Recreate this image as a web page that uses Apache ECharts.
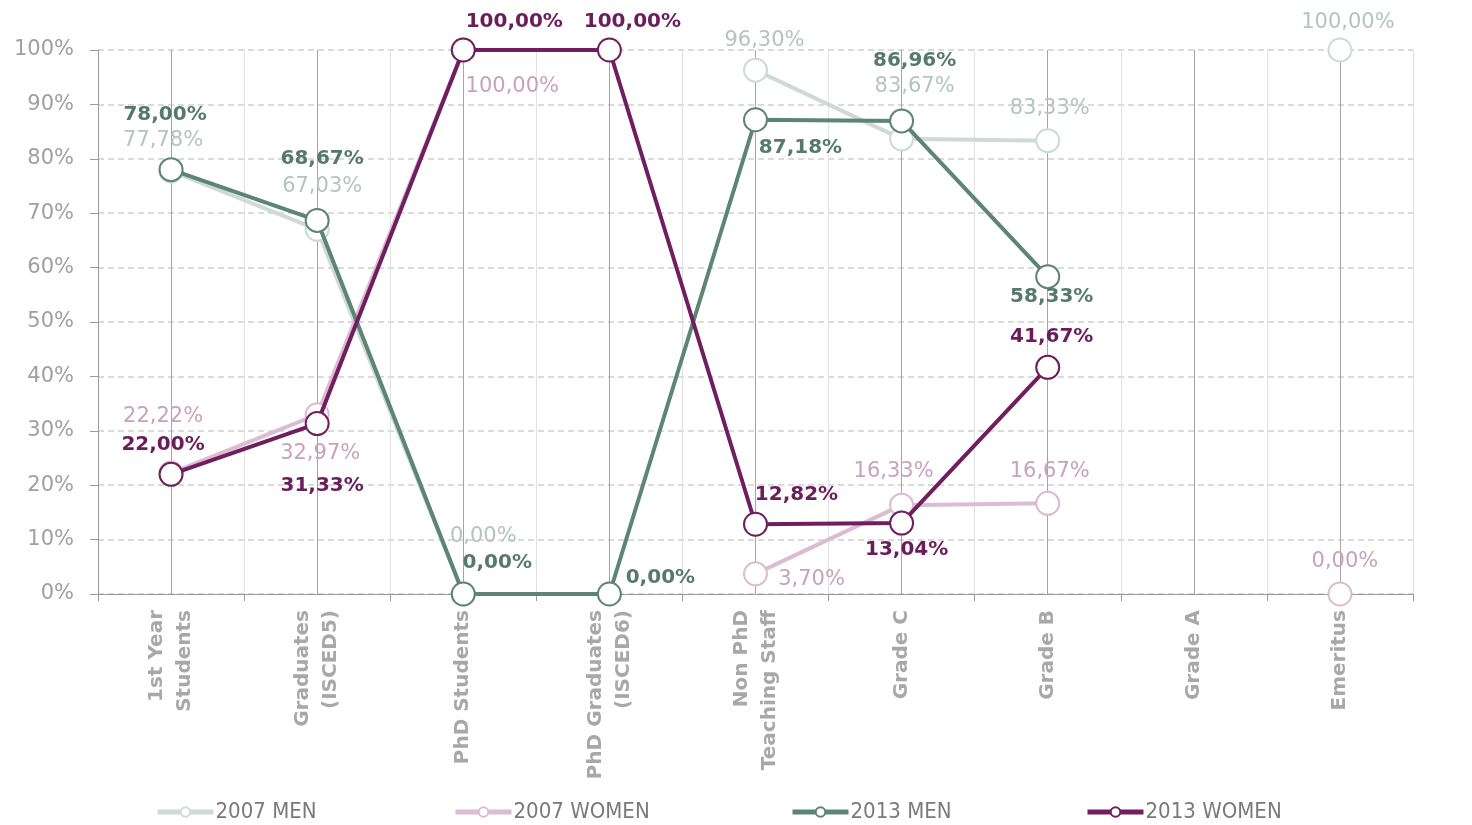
<!DOCTYPE html>
<html><head><meta charset="utf-8">
<script src="https://cdn.jsdelivr.net/npm/echarts@6/dist/echarts.min.js"></script>
<style>html,body{margin:0;padding:0;background:#fff}#c{width:1472px;height:825px}</style>
</head><body><div id="c"></div>
<script>
const categories = ['1st Year\nStudents','Graduates\n(ISCED5)','PhD Students','PhD Graduates\n(ISCED6)','Non PhD\nTeaching Staff','Grade C','Grade B','Grade A','Emeritus'];
const seriesNames = ['2007 MEN','2007 WOMEN','2013 MEN','2013 WOMEN'];
const men2007   = [77.78, 67.03, 0, null, 96.30, 83.67, 83.33, null, 100];
const women2007 = [22.22, 32.97, 100, null, 3.70, 16.33, 16.67, null, 0];
const men2013   = [78.00, 68.67, 0, 0, 87.18, 86.96, 58.33, null, null];
const women2013 = [22.00, 31.33, 100, 100, 12.82, 13.04, 41.67, null, null];
const yTicks = [0,10,20,30,40,50,60,70,80,90,100];

// label offsets (style only)
const offs = {
  '2007 MEN':   [[-8,-30],[5,-43],[20,-57],null,[9,-30],[13,-52],[2,-32],null,[8,-27]],
  '2007 WOMEN': [[-8,-57],[3,39],[49,37],null,[56,6],[-8,-34],[2,-32],null,[5,-32]],
  '2013 MEN':   [[-6,-55],[5,-62],[34,-31],[51,-16],[45,28],[13,-60],[4,20],null,null],
  '2013 WOMEN': [[-8,-30],[5,62],[51,-28],[23,-28],[41,-29],[5,27],[4,-31],null,null]
};
const styles = {
  '2007 MEN':   {line:'#cfdad6', label:'#b5c4bf', weight:'normal', size:21, z:2},
  '2007 WOMEN': {line:'#dcbcd2', label:'#c8a2bb', weight:'normal', size:21, z:2},
  '2013 MEN':   {line:'#5c8576', label:'#557a6c', weight:'bold', size:20, z:4},
  '2013 WOMEN': {line:'#6f1f5f', label:'#6a1d5a', weight:'bold', size:20, z:5}
};
const values = {'2007 MEN':men2007,'2007 WOMEN':women2007,'2013 MEN':men2013,'2013 WOMEN':women2013};
const fmt = v => v.toFixed(2).replace('.', ',') + '%';

const series = seriesNames.map(name => {
  const st = styles[name];
  return {
    name, type:'line', z: st.z, xAxisIndex:0,
    symbol:'emptyCircle', symbolSize:23, connectNulls:false,
    lineStyle:{color:st.line, width:4},
    itemStyle:{color:st.line, borderColor:st.line, borderWidth:3.5},
    emphasis:{disabled:true},
    data: values[name].map((v,i) => v === null ? null : {
      value: v,
      label:{show:true, position:'inside', offset: offs[name][i],
        formatter: p => fmt(p.value), color: st.label, fontSize: st.size,
        fontWeight: st.weight, fontFamily:"'DejaVu Sans', sans-serif"}
    })
  };
});

const legendLefts = [155, 453, 790, 1085];
const legends = seriesNames.map((n,i) => ({
  data:[n], left: legendLefts[i], top: 801, padding:0, itemWidth:56, itemHeight:12, itemGap:0,
  lineStyle:{width:5},
  textStyle:{color:'#7a7a7a', fontSize:22, fontFamily:"'Liberation Sans Narrow','DejaVu Sans Condensed',sans-serif", padding:[0,0,0,-3]},
  selectedMode:false
}));

const chart = echarts.init(document.getElementById('c'));
chart.setOption({
  animation:false,
  backgroundColor:'#fff',
  grid:{left:98, right:59, top:50, bottom:231},
  legend: legends,
  xAxis:[{
    type:'category', data:categories, boundaryGap:true,
    axisLine:{lineStyle:{color:'#9a9a9a', width:1}},
    axisTick:{show:true, length:7, lineStyle:{color:'#9a9a9a'}},
    splitLine:{show:false},
    axisLabel:{interval:0, rotate:90, color:'#a8a8a8', fontSize:20, fontWeight:'bold',
      fontFamily:"'DejaVu Sans', sans-serif", lineHeight:28, margin:16}
  },{
    type:'value', min:0, max:18, interval:1, position:'bottom',
    axisLine:{show:false}, axisTick:{show:false}, axisLabel:{show:false},
    splitLine:{show:true, lineStyle:{color:['#e2e2e2','#a5a5a5'], width:1}}
  }],
  yAxis:{
    type:'value', min:0, max:100, interval:10,
    axisLine:{show:true, lineStyle:{color:'#9a9a9a'}},
    axisTick:{show:true, inside:false, length:8, lineStyle:{color:'#9a9a9a'}},
    splitLine:{show:true, lineStyle:{color:'#cfcfcf', type:[6,4], width:1.5}},
    axisLabel:{formatter: v => yTicks.includes(v) ? v + '%' : '', color:'#a0a0a0', fontSize:21,
      fontFamily:"'DejaVu Sans', sans-serif", margin:24}
  },
  series
});
</script></body></html>
